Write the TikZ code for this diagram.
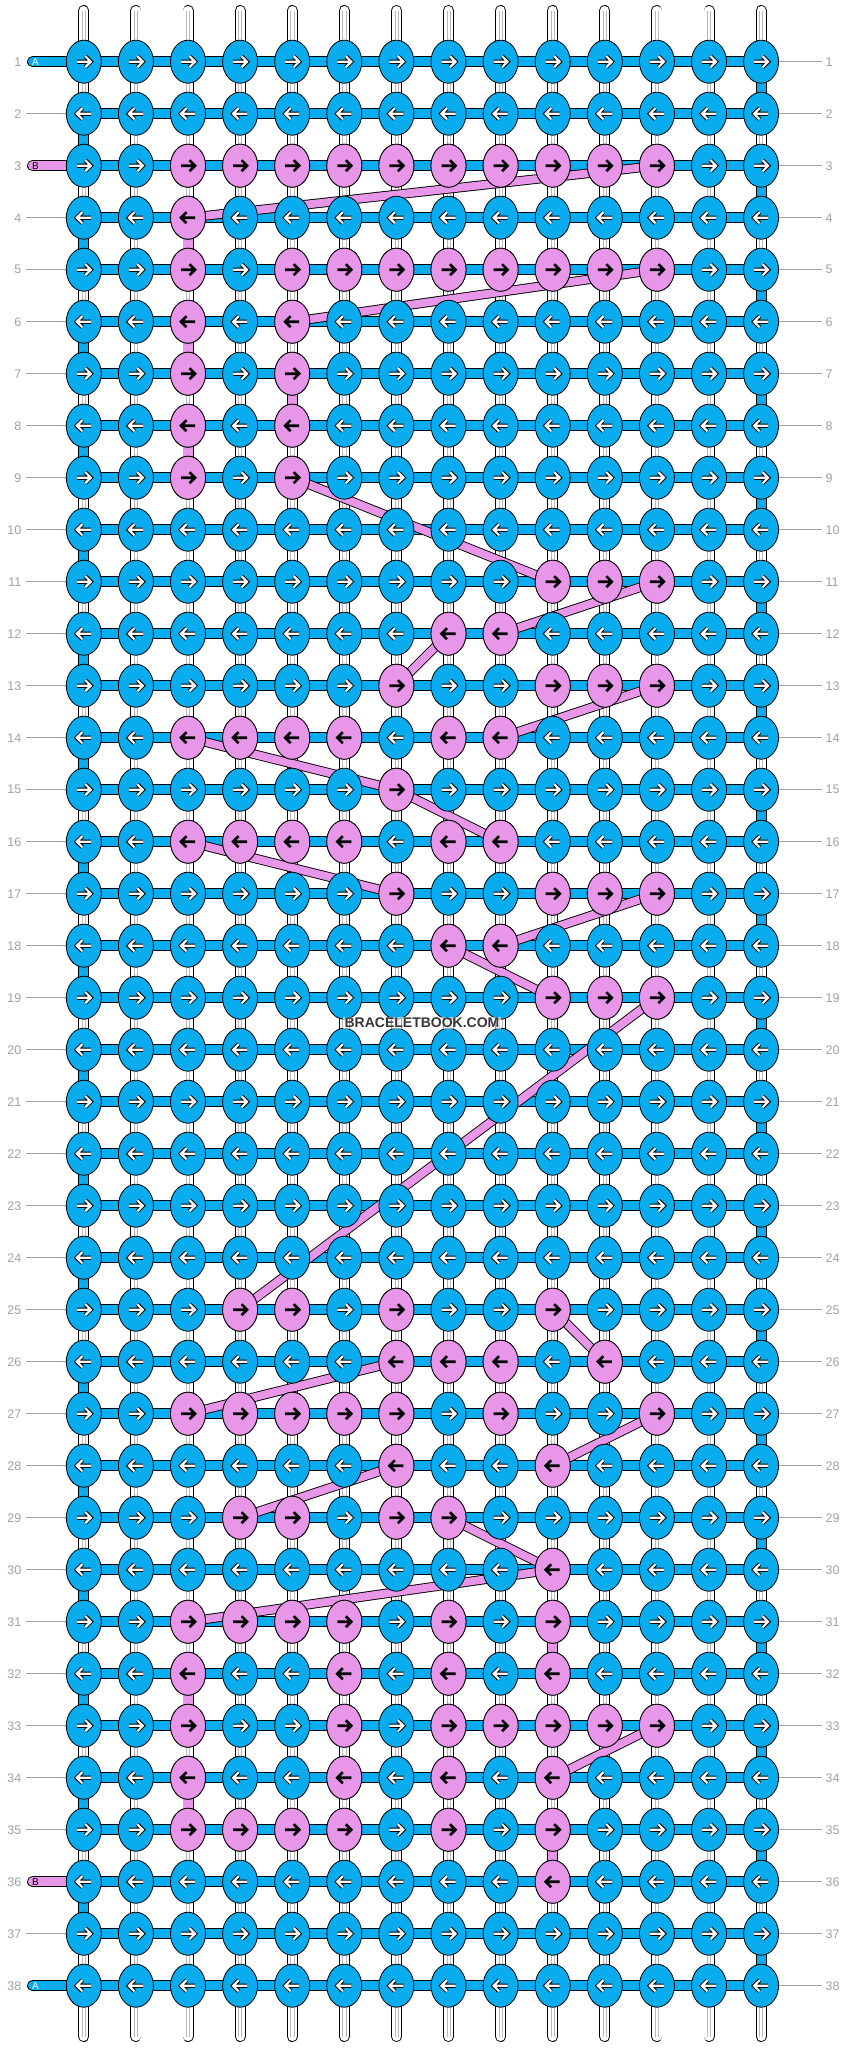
\documentclass[tikz,border=0pt]{standalone}
\usepackage{fontspec}
\setmainfont{Liberation Sans}
\usetikzlibrary{shapes.geometric}
\definecolor{kblue}{RGB}{10,172,240}
\definecolor{kpink}{RGB}{232,150,232}
\definecolor{lgray}{RGB}{160,160,160}
\definecolor{sgray}{RGB}{185,185,185}
\tikzset{
  knot/.style={ellipse, draw=black, line width=0.8pt, minimum width=35pt, minimum height=43pt, inner sep=0pt},
  lab/.style={text=lgray, font=\fontsize{12.5}{13}\selectfont, inner sep=0pt},
  rowline/.style={lgray, line width=0.8pt},
  outl/.style={black, line width=11pt},
  fillw/.style={line width=9.2pt},
  diagout/.style={black, line width=9.6pt},
  diagin/.style={kpink, line width=7.8pt},
  arrwout/.style={black, line width=4.2pt},
  arrwin/.style={white, line width=2.2pt},
  arrblk/.style={black, line width=2.6pt}
}
\begin{document}
\begin{tikzpicture}[x=1pt,y=-1pt]
\useasboundingbox (0,0) rectangle (844,2048);
% grid coordinates
\foreach \r in {1,...,38}{
  \foreach \c in {1,...,14}{
    \coordinate (p-\r-\c) at ({83.8+(\c-1)*52.1},{61.7+(\r-1)*52});
  }
}
\foreach \c in {1,...,14}{
  \coordinate (t-\c) at ({83.8+(\c-1)*52.1},10.5);
  \coordinate (b-\c) at ({83.8+(\c-1)*52.1},2036.5);
}
% vertical strands
\foreach \c in {1,...,14}{
  \draw[outl, line cap=round] (t-\c) -- (b-\c);
  \draw[fillw, white, line cap=round] (t-\c) -- (b-\c);
  \draw[sgray, line width=0.6pt] ([xshift=-1.6pt]t-\c) -- ([xshift=-1.6pt]b-\c);
  \draw[sgray, line width=0.6pt] ([xshift=1.6pt]t-\c) -- ([xshift=1.6pt]b-\c);
}
% row labels and guide lines
\foreach \r in {1,...,38}{
  \node[lab, anchor=east] (ln-\r) at (21.5,{61.7+(\r-1)*52}) {\r};
  \node[lab, anchor=west] (rn-\r) at (825.5,{61.7+(\r-1)*52}) {\r};
  \coordinate (rl-\r) at (822,{61.7+(\r-1)*52});
  \draw[rowline] (p-\r-14) -- (rl-\r);
}
\foreach \r in {2,4,5,...,35,37}{
  \coordinate (ll-\r) at (26,{61.7+(\r-1)*52});
  \draw[rowline] (ll-\r) -- (p-\r-1);
}
% A / B strand ends
\foreach \r/\col/\lt/\tc in {1/kblue/A/white,3/kpink/B/black,36/kpink/B/black,38/kblue/A/white}{
  \coordinate (s-\r) at (32.5,{61.7+(\r-1)*52});
  \draw[outl, line cap=round] (s-\r) -- (p-\r-1);
  \draw[fillw, \col, line cap=round] (s-\r) -- (p-\r-1);
  \node[font=\fontsize{10}{10}\selectfont, text=\tc, inner sep=0pt] (sl-\r) at (35.5,{61.7+(\r-1)*52}) {\lt};
}
% horizontal connectors
\foreach \r in {1,...,38}{
  \draw[outl] (p-\r-1) -- (p-\r-14);
  \draw[fillw, kblue] (p-\r-1) -- (p-\r-14);
}
% vertical turn segments
\foreach \r in {1,3,...,37}{
  \pgfmathtruncatemacro\s{\r+1}
  \draw[outl] (p-\r-14) -- (p-\s-14);
  \draw[fillw, kblue] (p-\r-14) -- (p-\s-14);
}
\foreach \r in {2,4,...,36}{
  \pgfmathtruncatemacro\s{\r+1}
  \draw[outl] (p-\r-1) -- (p-\s-1);
  \draw[fillw, kblue] (p-\r-1) -- (p-\s-1);
}
\foreach \r/\c in {4/3,6/3,7/5,8/3,31/10,32/3,34/3,35/10}{
  \pgfmathtruncatemacro\s{\r+1}
  \draw[outl] (p-\r-\c) -- (p-\s-\c);
  \draw[fillw, kpink] (p-\r-\c) -- (p-\s-\c);
}
% carried pink strand
\foreach \a/\b in {3-12/4-3,5-12/6-5,9-5/11-10,11-12/12-9,12-8/13-7,13-12/14-9,14-3/15-7,15-7/16-9,16-3/17-7,17-12/18-9,18-8/19-10,19-12/25-4,25-10/26-11,26-7/27-3,27-12/28-10,28-7/29-4,29-8/30-10,30-10/31-3,33-12/34-10}{
  \draw[diagout] (p-\a) -- (p-\b);
  \draw[diagin] (p-\a) -- (p-\b);
}
% blue knots
\foreach \r in {1,...,38}{
  \pgfmathtruncatemacro\d{ifthenelse(mod(\r,2)==1,1,-1)}
  \foreach \c in {1,...,14}{
    \node[knot, fill=kblue] (k-\r-\c) at (p-\r-\c) {};
    \draw[arrwout, shift={(p-\r-\c)}, xscale=\d] (-7,0) -- (7,0) (1.5,-5.5) -- (7,0) -- (1.5,5.5);
    \draw[arrwin, shift={(p-\r-\c)}, xscale=\d] (-7,0) -- (7,0) (1.5,-5.5) -- (7,0) -- (1.5,5.5);
  }
}
% pink knots
\foreach \r/\cs in {3/{3,4,5,6,7,8,9,10,11,12},4/{3},5/{3,5,6,7,8,9,10,11,12},6/{3,5},7/{3,5},8/{3,5},9/{3,5},
  11/{10,11,12},12/{8,9},13/{7,10,11,12},14/{3,4,5,6,8,9},15/{7},16/{3,4,5,6,8,9},17/{7,10,11,12},18/{8,9},19/{10,11,12},
  25/{4,5,7,10},26/{7,8,9,11},27/{3,4,5,6,7,9,12},28/{7,10},29/{4,5,7,8},30/{10},31/{3,4,5,6,8,10},32/{3,6,8,10},
  33/{3,6,8,9,10,11,12},34/{3,6,8,10},35/{3,4,5,6,8,10},36/{10}}{
  \pgfmathtruncatemacro\d{ifthenelse(mod(\r,2)==1,1,-1)}
  \foreach \c in \cs {
    \node[knot, fill=kpink] (k-\r-\c) at (p-\r-\c) {};
    \draw[arrblk, shift={(p-\r-\c)}, xscale=\d] (-7,0) -- (7,0) (1.5,-5.5) -- (7,0) -- (1.5,5.5);
  }
}
% watermark
\node[fill=white, fill opacity=0.6, text opacity=1, text=black!78, inner sep=1.2pt,
      font=\fontsize{14}{14}\selectfont\bfseries] (wm) at (422,1023) {BRACELETBOOK.COM};
\end{tikzpicture}
\end{document}
